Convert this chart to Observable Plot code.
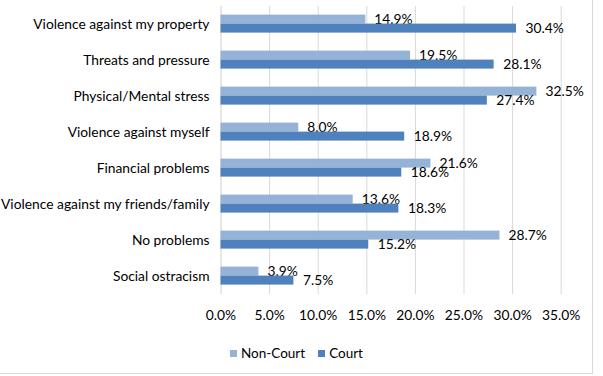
<!DOCTYPE html>
<html>
<head>
<meta charset="utf-8">
<script src="https://cdn.jsdelivr.net/npm/d3@7"></script>
<script src="https://cdn.jsdelivr.net/npm/@observablehq/plot@0.6"></script>
<style>
  html, body { margin: 0; padding: 0; background: #fff; }
  #wrap { position: relative; width: 603px; height: 376px; overflow: hidden; font-family: Lato, sans-serif; }
  #frame { position: absolute; left: -2px; top: -2px; width: 595px; height: 376px; border-right: 1px solid #d9d9d9; border-bottom: 1px solid #d9d9d9; box-sizing: border-box; }
  #chart { position: absolute; left: 0; top: 0; }
  #legend { position: absolute; top: 345px; left: 230px; font-size: 13.5px; color: #000; display: flex; align-items: center; white-space: nowrap; }
  .sw { display: inline-block; width: 7px; height: 7px; margin-right: 4px; }
</style>
</head>
<body>
<div id="wrap">
  <div id="frame"></div>
  <div id="chart"></div>
  <div id="legend"></div>
</div>
<script>
const categories = [
  "Violence against my property",
  "Threats and pressure",
  "Physical/Mental stress",
  "Violence against myself",
  "Financial problems",
  "Violence against my friends/family",
  "No problems",
  "Social ostracism"
];
const seriesNames = ["Non-Court", "Court"];
const nonCourt = [14.9, 19.5, 32.5, 8.0, 21.6, 13.6, 28.7, 3.9];
const court = [30.4, 28.1, 27.4, 18.9, 18.6, 18.3, 15.2, 7.5];
const xTicks = [0, 5, 10, 15, 20, 25, 30, 35];
const colors = ["#95b3d7", "#4f81bd"];

const rows = [];
categories.forEach((c, i) => {
  rows.push({cat: c, series: seriesNames[0], v: nonCourt[i]});
  rows.push({cat: c, series: seriesNames[1], v: court[i]});
});
const fmt = v => v.toFixed(1) + "%";
const isNC = d => d.series === seriesNames[0];
const isC = d => d.series === seriesNames[1];

const chart = Plot.plot({
  width: 603,
  height: 340,
  marginLeft: 220.5,
  marginRight: 42.3,
  marginTop: 4.4,
  marginBottom: 44.4,
  style: {fontFamily: "Lato, sans-serif", fontSize: "13.8px", color: "#000", background: "transparent"},
  facet: {data: rows, y: "cat", marginTop: 0, marginBottom: 0, marginLeft: 0, marginRight: 0},
  fy: {domain: categories, padding: 0, paddingInner: 0, paddingOuter: 0, axis: "left", tickSize: 0, tickPadding: 11.5, label: null},
  y: {domain: seriesNames, paddingInner: 0, paddingOuter: 0.857, axis: null},
  x: {domain: [0, 35], ticks: xTicks, tickFormat: d => d.toFixed(1) + "%", tickSize: 0, tickPadding: 15.5, label: null},
  marks: [
    Plot.ruleX(xTicks.slice(1), {stroke: "#d9d9d9", strokeWidth: 1}),
    Plot.ruleX([0], {stroke: "#d0d0d0", strokeWidth: 1}),
    Plot.barX(rows, {filter: isNC, x: "v", y: "series", fill: colors[0], inset: 0}),
    Plot.text(rows, {filter: isNC, x: "v", y: "series", text: d => fmt(d.v), textAnchor: "start", dx: 8.5, fill: "#000"}),
    Plot.barX(rows, {filter: isC, x: "v", y: "series", fill: colors[1], inset: 0}),
    Plot.text(rows, {filter: isC, x: "v", y: "series", text: d => fmt(d.v), textAnchor: "start", dx: 9, fill: "#000"})
  ]
});
document.getElementById("chart").appendChild(chart);

const legend = document.getElementById("legend");
seriesNames.forEach((s, i) => {
  const item = document.createElement("span");
  item.style.display = "inline-flex";
  item.style.alignItems = "center";
  item.style.marginRight = i === 0 ? "13px" : "0";
  const sw = document.createElement("span");
  sw.className = "sw";
  sw.style.background = colors[i];
  item.appendChild(sw);
  item.appendChild(document.createTextNode(s));
  legend.appendChild(item);
});
</script>
</body>
</html>
